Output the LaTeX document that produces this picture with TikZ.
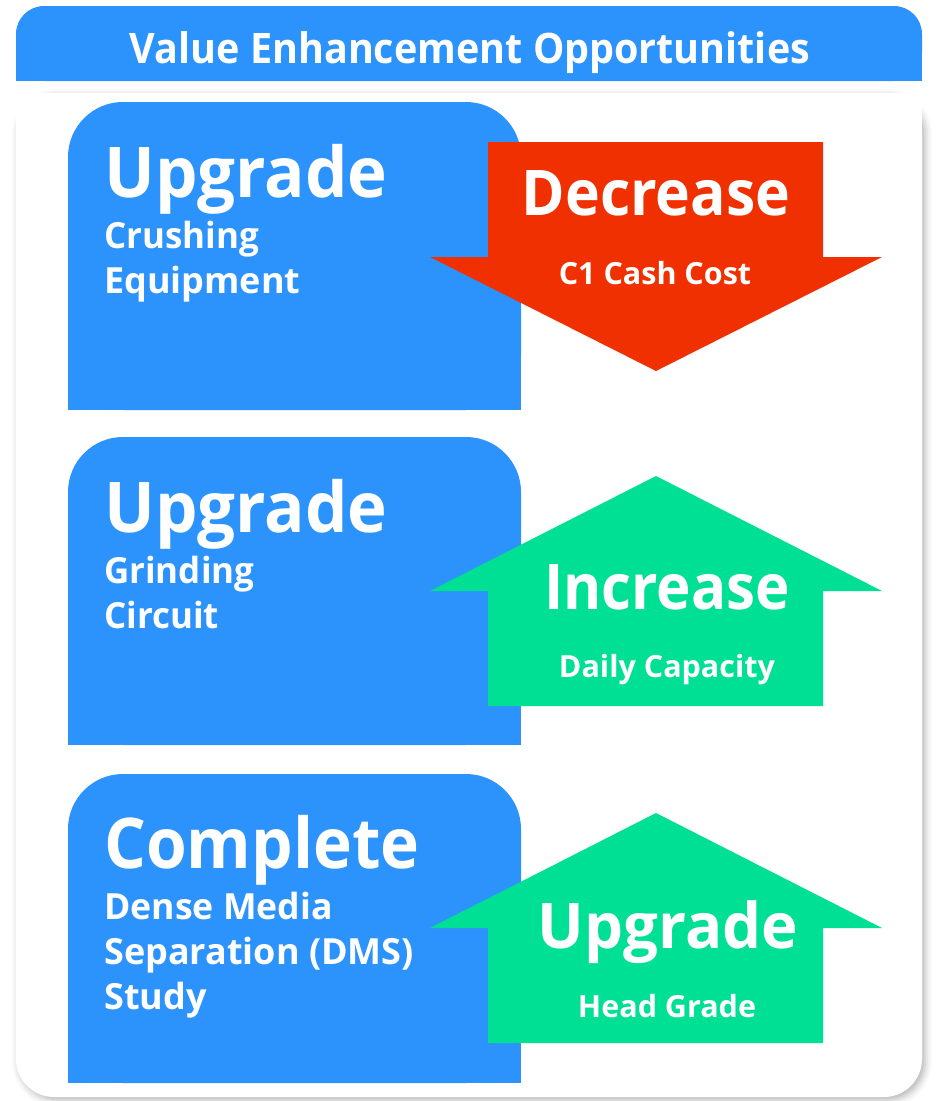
\documentclass[tikz,border=0pt]{standalone}
\usepackage{graphicx}
\usepackage{fontspec}
\setmainfont{Open Sans}
\usetikzlibrary{shadows.blur}
\definecolor{boxblue}{HTML}{2C93FC}
\definecolor{arrred}{HTML}{F03000}
\definecolor{arrgreen}{HTML}{00E094}
\newcommand{\hsq}[2]{\scalebox{#1}[1]{#2}}
\tikzset{
  bigtxt/.style={text=white, inner sep=0pt, font=\bfseries\fontsize{70}{70}\selectfont},
  subtxt/.style={text=white, inner sep=0pt, font=\bfseries\fontsize{36}{45}\selectfont},
  arrbig/.style={text=white, inner sep=0pt, font=\bfseries\fontsize{63}{63}\selectfont},
  arrsub/.style={text=white, inner sep=0pt, font=\bfseries\fontsize{30.5}{30.5}\selectfont},
  ttl/.style={text=white, inner sep=0pt, font=\bfseries\fontsize{42}{42}\selectfont},
}
\begin{document}
\begin{tikzpicture}[x=1pt,y=-1pt]
\useasboundingbox (0,0) rectangle (935,1101);
% header
\fill[boxblue, rounded corners=28pt] (16,6) rectangle (922,81);
\fill[boxblue] (16,45) rectangle (922,81);
\node[ttl, anchor=base] (title) at (470,63) {\hsq{0.94}{Value Enhancement Opportunities}};
% panel
\fill[white, blur shadow={shadow xshift=3pt, shadow yshift=-3pt, shadow blur radius=7pt, shadow opacity=30}, rounded corners=38pt] (16,93) rectangle (922,1097);
\fill[white] (16,93) rectangle (922,140);
% blue boxes
\foreach \t/\b in {102/410, 437/745, 774/1083}{
  \fill[boxblue, rounded corners=55pt] (68,\t) rectangle (521,\b);
  \fill[boxblue] (68,\t+60) rectangle (521,\b);
}
% arrows
\fill[arrred] (488,142) -- (823,142) -- (823,257) -- (882,257) -- (656,371) -- (430,257) -- (488,257) -- cycle;
\fill[arrgreen] (488,706) -- (823,706) -- (823,591) -- (882,591) -- (656,476) -- (430,591) -- (488,591) -- cycle;
\fill[arrgreen] (488,1043) -- (823,1043) -- (823,928) -- (882,928) -- (656,813) -- (430,928) -- (488,928) -- cycle;
% box texts
\node[bigtxt, anchor=base west] (u1) at (104,197) {\hsq{0.96}{Upgrade}};
\node[subtxt, anchor=base west] (s1a) at (104,248) {\hsq{0.97}{Crushing}};
\node[subtxt, anchor=base west] (s1b) at (104,293) {Equipment};
\node[bigtxt, anchor=base west] (u2) at (104,532) {\hsq{0.96}{Upgrade}};
\node[subtxt, anchor=base west] (s2a) at (104,583) {\hsq{0.97}{Grinding}};
\node[subtxt, anchor=base west] (s2b) at (104,628) {\hsq{0.97}{Circuit}};
\node[bigtxt, anchor=base west] (u3) at (104,868) {\hsq{0.94}{Complete}};
\node[subtxt, anchor=base west] (s3a) at (104,919) {\hsq{0.99}{Dense Media}};
\node[subtxt, anchor=base west] (s3b) at (104,964) {Separation (DMS)};
\node[subtxt, anchor=base west] (s3c) at (104,1009) {Study};
% arrow texts
\node[arrbig, anchor=base] (a1) at (656,215) {\hsq{0.935}{Decrease}};
\node[arrsub, anchor=base] (a1s) at (655,284) {C1 Cash Cost};
\node[arrbig, anchor=base] (a2) at (667,609) {\hsq{0.925}{Increase}};
\node[arrsub, anchor=base] (a2s) at (667,677) {Daily Capacity};
\node[arrbig, anchor=base] (a3) at (668,948) {\hsq{0.98}{Upgrade}};
\node[arrsub, anchor=base] (a3s) at (667,1017) {Head Grade};
\end{tikzpicture}
\end{document}
